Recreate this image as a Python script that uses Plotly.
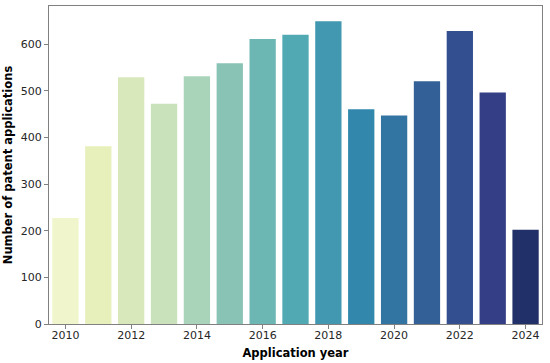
import colorsys
import plotly.graph_objects as go
from plotly.colors import sample_colorscale, sequential

years = [str(y) for y in range(2010, 2025)]
applications = [227, 381, 529, 472, 531, 559, 611, 620, 649, 460, 447, 520, 628, 496, 202]
tick_labels = ["2010", "2012", "2014", "2016", "2018", "2020", "2022", "2024"]
y_ticks = [0, 100, 200, 300, 400, 500, 600]

n = len(years)
raw = sample_colorscale(sequential.YlGnBu, [(i + 1) / (n + 1) for i in range(n)], colortype="rgb")


def desat(c, s=0.75):
    vals = [float(v) / 255 for v in c[c.index("(") + 1:-1].split(",")]
    h, l, sat = colorsys.rgb_to_hls(*vals)
    r, g, b = colorsys.hls_to_rgb(h, l, sat * s)
    return "rgb(%d,%d,%d)" % (round(r * 255), round(g * 255), round(b * 255))


colors = [desat(c) for c in raw]

fig = go.Figure(go.Bar(
    x=years, y=applications, marker=dict(color=colors, line=dict(width=0)),
    width=0.8,
))

axis_common = dict(
    showline=True, linecolor="#808080", linewidth=1, mirror=True,
    ticks="outside", ticklen=4, tickcolor="#808080", showgrid=False,
    tickfont=dict(family="DejaVu Sans", size=11, color="#262626"),
    zeroline=False, automargin=False,
)

fig.update_layout(
    width=550, height=363,
    margin=dict(l=49, r=8, t=6, b=39),
    plot_bgcolor="white", paper_bgcolor="white",
    showlegend=False,
    bargap=0.2,
    xaxis=dict(
        **axis_common,
        type="category", range=[-0.5, n - 0.5],
        tickvals=tick_labels, ticktext=tick_labels,
        ticklabelstandoff=-3,
        title=dict(text="<b>Application year</b>", font=dict(family="DejaVu Sans", size=11.5, color="black"), standoff=7),
    ),
    yaxis=dict(
        **axis_common,
        range=[0, max(applications) * 1.05],
        tickvals=y_ticks,
        title=dict(text="<b>Number of patent applications</b>", font=dict(family="DejaVu Sans", size=11.5, color="black"), standoff=5),
    ),
)

fig.write_html("out.html", config={"displayModeBar": False},
               post_script="document.body.style.margin='0px';")
